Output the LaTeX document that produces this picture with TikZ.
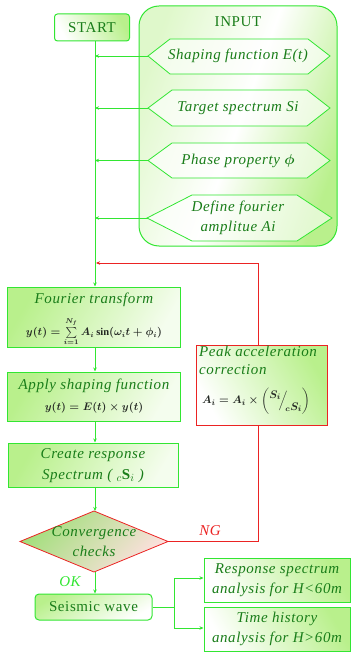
\documentclass[tikz,border=0pt]{standalone}
\usepackage{fontspec}
\setmainfont{Liberation Serif}[LetterSpace=4]
\usepackage{amsmath}
\usetikzlibrary{shapes.geometric,arrows.meta}
\definecolor{gline}{RGB}{50,230,50}
\definecolor{gtext}{RGB}{25,125,25}
\definecolor{rline}{RGB}{235,35,35}
\definecolor{gfill}{RGB}{185,240,140}
\definecolor{ftext}{RGB}{35,40,35}
\newsavebox\fourierbox
\newsavebox\applybox
\newsavebox\peakbox
\newsavebox\spectbox
\tikzset{
  gbox/.style={draw=gline, line width=1pt, text=gtext, align=center, inner sep=1pt,
    left color=gfill, right color=white!85!gfill, shading angle=60},
  rbox/.style={draw=rline, line width=0.8pt, text=gtext, inner sep=2pt,
    left color=white, right color=gfill, shading angle=120},
  hexshape/.style={draw=gline, line width=0.8pt, fill=white, fill opacity=0.6},
  diashape/.style={draw=rline, line width=0.8pt, left color=gfill!85!gtext, right color=red!12, shading angle=45},
  txt/.style={text=gtext, align=center, inner sep=0pt},
  plain/.style={inner sep=0pt},
  garrow/.style={draw=gline, line width=0.8pt, -{Stealth[length=4pt,width=3.5pt]}},
  glinest/.style={draw=gline, line width=0.8pt},
  rarrow/.style={draw=rline, line width=0.8pt, -{Stealth[length=4pt,width=3.5pt]}},
  rlinest/.style={draw=rline, line width=0.8pt},
  it/.style={font=\fontsize{15}{17}\selectfont\itshape},
  ittwo/.style={font=\fontsize{15}{20}\selectfont\itshape},
}
\begin{document}
\sbox\fourierbox{\fontsize{10.5}{12}\selectfont\color{ftext}\boldmath$y(t)=\sum\limits_{i=1}^{N_f}A_i\sin(\omega_i t+\phi_i)$}%
\sbox\applybox{\fontsize{10.5}{12}\selectfont\color{ftext}\boldmath$y(t)=E(t)\times y(t)$}%
\sbox\peakbox{\fontsize{11}{13}\selectfont\color{ftext}\boldmath$A_i=A_i\times\left(\raisebox{1.1ex}{$S_i$}\!\Big/\!\raisebox{-1.3ex}{${}_cS_i$}\right)$}%
\sbox\spectbox{\fontsize{15}{17}\selectfont\color{gtext}\itshape Spectrum ( ${}_c\mathbf{S}_i$ )}%
\begin{tikzpicture}[x=1pt,y=-1pt,font=\fontsize{15}{17}\selectfont]
\useasboundingbox (0,0) rectangle (353,652);
\coordinate (mx) at (95,0);
% INPUT container
\node[draw=gline, line width=1pt, rounded corners=20pt, minimum width=198pt, minimum height=240pt,
  left color=gfill!45!white, right color=gfill, middle color=white, shading angle=70] (input) at (238,126) {};
\node[txt] (inputtitle) at (238,22) {INPUT};
% hexagons
\path[hexshape] (148,56) -- (170,39) -- (308,39) -- (330,56) -- (308,74) -- (170,74) -- cycle;
\path[hexshape] (148,108) -- (172,90) -- (307,90) -- (330,108) -- (307,126) -- (172,126) -- cycle;
\path[hexshape] (148,160.5) -- (172,143) -- (307,143) -- (330,160.5) -- (307,178) -- (172,178) -- cycle;
\path[hexshape] (147,218) -- (192,195) -- (297,195) -- (332,218) -- (297,241) -- (192,241) -- cycle;
\node[txt,it] (h1) at (238,56) {Shaping function E(t)};
\node[txt,it] (h2) at (238,108) {Target spectrum Si};
\node[txt,it] (h3) at (238,160.5) {Phase property $\boldsymbol{\phi}$};
\node[txt,ittwo] (h4) at (238,218) {Define fourier\\amplitue Ai};
\coordinate (h1w) at (148,56);
\coordinate (h2w) at (148,108);
\coordinate (h3w) at (148,160.5);
\coordinate (h4w) at (148,218);
% START
\node[gbox, rounded corners=3pt, minimum width=75pt, minimum height=27pt,
  left color=white, right color=gfill, shading angle=120] (start) at (92,27.5) {START};
% Fourier
\node[gbox, minimum width=173pt, minimum height=60pt] (fourier) at (93.5,317) {};
\node[txt,it] (fouriert) at (94,300) {Fourier transform};
\node[plain] (fourierf) at (94,332) {\usebox\fourierbox};
% Apply
\node[gbox, minimum width=173pt, minimum height=49pt] (apply) at (93.5,396.5) {};
\node[txt,it] (applyt) at (94,386) {Apply shaping function};
\node[plain] (applyf) at (94,408) {\usebox\applybox};
% Create
\node[gbox, minimum width=170pt, minimum height=44pt] (create) at (93,465) {};
\node[txt,it] (createt) at (93,455) {Create response};
\node[plain] (createf) at (93,476) {\usebox\spectbox};
% diamond
\coordinate (convN) at (94,511);
\coordinate (convS) at (94,572);
\coordinate (convE) at (168,541.5);
\coordinate (convW) at (20,541.5);
\path[diashape] (convW) -- (convN) -- (convE) -- (convS) -- cycle;
\node[txt,ittwo] (conv) at (94,541.5) {Convergence\\checks};
% Peak
\node[rbox, minimum width=131pt, minimum height=80pt] (peak) at (261.5,385) {};
\node[txt,font=\fontsize{15}{18}\selectfont\itshape, align=left, anchor=north west] (peakt) at (199,346) {Peak acceleration\\correction};
\node[plain] (peakf) at (256,401) {\usebox\peakbox};
% Seismic wave
\node[gbox, rounded corners=4pt, minimum width=117pt, minimum height=26pt,
  left color=gfill, right color=white, shading angle=30, font=\fontsize{15}{17}\selectfont] (seis) at (93.5,607) {Seismic wave};
% outputs
\node[gbox, minimum width=146pt, minimum height=44pt, ittwo,
  left color=white, right color=gfill, shading angle=120] (resp) at (277,580) {Response spectrum\\analysis for H<60m};
\node[gbox, minimum width=146pt, minimum height=44pt, ittwo,
  left color=white, right color=gfill, shading angle=120] (timeh) at (277,629) {Time history\\analysis for H>60m};
% labels
\node[txt, text=rline, it] (ng) at (210,531) {NG};
\node[txt, text=gline, it] (ok) at (70,582) {OK};
% main line
\draw[garrow] (start.south -| mx) -- (fourier.north -| mx);
\draw[garrow] (h1w) -- (h1w -| mx);
\draw[garrow] (h2w) -- (h2w -| mx);
\draw[garrow] (h3w) -- (h3w -| mx);
\draw[garrow] (h4w) -- (h4w -| mx);
\draw[garrow] (fourier.south -| mx) -- (apply.north -| mx);
\draw[garrow] (apply.south -| mx) -- (create.north -| mx);
\draw[garrow] (create.south -| mx) -- (convN -| mx);
\draw[garrow] (convS -| mx) -- (seis.north -| mx);
% red loop
\coordinate (rx) at (258,0);
\coordinate (ry) at (0,263);
\draw[rlinest] (convE) -- (convE -| rx) -- (peak.south -| rx);
\draw[rarrow] (peak.north -| rx) -- (rx |- ry) -- ([xshift=1pt]mx |- ry);
% branches
\coordinate (bx) at (174,0);
\draw[glinest] (seis.east) -- (seis.east -| bx);
\draw[garrow] (bx |- seis.east) |- ([yshift=2pt]resp.west);
\draw[garrow] (bx |- seis.east) |- ([yshift=1pt]timeh.west);
\end{tikzpicture}
\end{document}
